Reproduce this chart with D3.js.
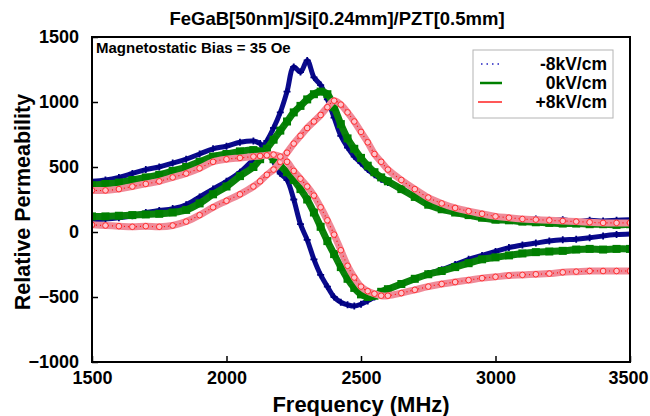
<!DOCTYPE html>
<html>
<head>
<meta charset="utf-8">
<script src="https://cdn.jsdelivr.net/npm/d3@7"></script>
<style>
body { margin: 0; background: white; }
text { font-family: 'Liberation Sans', Arial, sans-serif; font-weight: bold; }
</style>
</head>
<body>
<svg id='chart'></svg>
<script>
// frequency grid (MHz), finer around the resonance
var freqs = [1500, 1550, 1600, 1650, 1700, 1750, 1800, 1850, 1900, 1950, 2000, 2050, 2100,
	2125, 2150, 2175, 2200, 2225, 2250, 2275, 2300, 2325, 2350, 2375, 2400, 2425, 2450, 2475,
	2500, 2525, 2550, 2575, 2600, 2650, 2700, 2750, 2800, 2850, 2900, 2950, 3000, 3050, 3100,
	3150, 3200, 3250, 3300, 3350, 3400, 3450, 3500];

// real part (mu') per field
var realM8 = [390, 400, 420, 450, 480, 500, 530, 560, 600, 640, 660, 690, 700,
	680, 630, 540, 450, 400, 250, 60, -60, -210, -330, -420, -500, -540, -560, -570,
	-555, -530, -500, -470, -440, -400, -360, -320, -290, -250, -210, -180, -150, -120, -100,
	-85, -70, -60, -55, -45, -30, -20, -15];
var real0 = [360, 370, 380, 400, 420, 440, 470, 500, 540, 580, 600, 620, 630,
	620, 600, 560, 510, 460, 400, 330, 250, 150, 40, -70, -170, -270, -360, -430,
	-480, -500, -490, -460, -440, -400, -360, -325, -300, -270, -240, -210, -195, -180, -165,
	-155, -150, -145, -135, -130, -135, -130, -130];
var realP8 = [320, 320, 330, 350, 370, 390, 420, 450, 490, 540, 560, 570, 580,
	585, 590, 595, 580, 540, 470, 410, 350, 280, 190, 90, -20, -140, -260, -350,
	-420, -455, -475, -490, -490, -470, -445, -420, -400, -385, -370, -355, -345, -335, -330,
	-325, -320, -310, -305, -300, -300, -300, -300];

// imaginary part (mu'') per field
var imagM8 = [95, 100, 110, 125, 150, 165, 180, 210, 270, 330, 390, 460, 560,
	620, 700, 800, 920, 1080, 1270, 1230, 1320, 1190, 1130, 1020, 880, 740, 650, 580,
	530, 480, 440, 405, 380, 330, 275, 225, 185, 160, 140, 120, 110, 100, 95,
	100, 90, 95, 80, 90, 85, 90, 95];
var imag0 = [120, 120, 125, 130, 135, 140, 150, 170, 220, 290, 350, 430, 500,
	560, 640, 710, 780, 850, 920, 970, 1020, 1060, 1080, 1060, 960, 830, 720, 640,
	570, 510, 460, 420, 390, 330, 270, 210, 175, 150, 130, 110, 95, 90, 80,
	75, 70, 65, 65, 60, 60, 55, 60];
var imagP8 = [55, 50, 45, 40, 45, 40, 50, 80, 130, 190, 240, 290, 350,
	390, 440, 480, 540, 610, 680, 740, 800, 850, 900, 960, 1010, 980, 920, 850,
	770, 690, 600, 540, 480, 400, 330, 265, 220, 185, 160, 140, 120, 110, 100,
	95, 90, 85, 80, 75, 70, 70, 70];

var xTicks = [1500, 2000, 2500, 3000, 3500];
var yTicks = [-1000, -500, 0, 500, 1000, 1500];
var fieldLabels = ['-8kV/cm', '0kV/cm', '+8kV/cm'];

var dims = { width: 650, height: 416, left: 92, right: 630, top: 37, bottom: 362 };

var svg = d3.select('#chart').attr('width', dims.width).attr('height', dims.height);

var x = d3.scaleLinear().domain([1500, 3500]).range([dims.left, dims.right]);
var y = d3.scaleLinear().domain([-1000, 1500]).range([dims.bottom, dims.top]);

svg.append('clipPath').attr('id', 'plotClip')
	.append('rect')
		.attr('x', dims.left).attr('y', dims.top)
		.attr('width', dims.right - dims.left).attr('height', dims.bottom - dims.top);

var series = [
	{ key: 'm8', real: realM8, imag: imagM8, color: '#00007f', band: '#0a0a8c', width: 5, marker: 'cross' },
	{ key: 'z', real: real0, imag: imag0, color: '#007f00', band: '#0a820a', width: 7, marker: 'square' },
	{ key: 'p8', real: realP8, imag: imagP8, color: '#ff0000', band: '#f08a98', width: 7, marker: 'circle' }
];

var line = d3.line().x(d => x(d[0])).y(d => y(d[1])).curve(d3.curveCatmullRom);

var plot = svg.append('g').attr('clip-path', 'url(#plotClip)');

series.forEach(function(s) {
	[s.imag, s.real].forEach(function(vals) {
		var pts = freqs.map((f, i) => [f, vals[i]]);
		var g = plot.append('g');
		g.append('path')
			.attr('d', line(pts))
			.attr('fill', 'none')
			.attr('stroke', s.band)
			.attr('stroke-width', s.width)
			.attr('stroke-linejoin', 'round');
		if (s.marker == 'circle') {
			g.append('path')
				.attr('d', line(pts))
				.attr('fill', 'none')
				.attr('stroke', '#ff1010')
				.attr('stroke-width', 1.2)
				.attr('stroke-dasharray', '1 3');
			g.selectAll('circle').data(pts).enter().append('circle')
				.attr('cx', d => x(d[0])).attr('cy', d => y(d[1]))
				.attr('r', 2.8)
				.attr('fill', '#ffc4cc')
				.attr('stroke', '#ff2020')
				.attr('stroke-width', 0.9);
		} else if (s.marker == 'square') {
			g.selectAll('rect').data(pts).enter().append('rect')
				.attr('x', d => x(d[0]) - 4).attr('y', d => y(d[1]) - 4)
				.attr('width', 8).attr('height', 8)
				.attr('fill', s.color);
		} else {
			g.selectAll('path.m').data(pts).enter().append('path')
				.attr('class', 'm')
				.attr('d', d => 'M' + (x(d[0]) - 3.5) + ',' + y(d[1]) + 'h7M' + x(d[0]) + ',' + (y(d[1]) - 3.5) + 'v7')
				.attr('stroke', s.color)
				.attr('stroke-width', 1.8);
		}
	});
});

// axes with inward ticks
var xAxis = svg.append('g')
	.attr('transform', 'translate(0 ' + dims.bottom + ')')
	.call(d3.axisBottom(x).tickValues(xTicks).tickSizeInner(-6).tickSizeOuter(0).tickPadding(9).tickFormat(d3.format('d')));
var yAxis = svg.append('g')
	.attr('transform', 'translate(' + dims.left + ' 0)')
	.call(d3.axisLeft(y).tickValues(yTicks).tickSizeInner(-6).tickSizeOuter(0).tickPadding(13).tickFormat(d3.format('d')));

[xAxis, yAxis].forEach(function(a) {
	a.select('.domain').remove();
	a.selectAll('line').attr('stroke', 'black').attr('stroke-width', 1.5);
	a.selectAll('text').attr('font-size', 18).attr('font-family', 'Liberation Sans, Arial, sans-serif')
		.attr('font-weight', 'bold').attr('fill', 'black');
});
// keep the last label inside the page
xAxis.selectAll('.tick').filter(d => d == 3500).select('text').attr('dx', -2);

svg.append('rect')
	.attr('x', dims.left).attr('y', dims.top)
	.attr('width', dims.right - dims.left).attr('height', dims.bottom - dims.top)
	.attr('fill', 'none')
	.attr('stroke', 'black')
	.attr('stroke-width', 2);

svg.append('text')
	.attr('x', 337).attr('y', 25)
	.attr('text-anchor', 'middle')
	.attr('font-size', 18.5)
	.text('FeGaB[50nm]/Si[0.24mm]/PZT[0.5mm]');

svg.append('text')
	.attr('x', 96).attr('y', 53)
	.attr('font-size', 15)
	.text('Magnetostatic Bias = 35 Oe');

svg.append('text')
	.attr('x', (dims.left + dims.right) / 2).attr('y', 412)
	.attr('text-anchor', 'middle')
	.attr('font-size', 22)
	.text('Frequency (MHz)');

svg.append('text')
	.attr('transform', 'translate(30 202) rotate(-90)')
	.attr('text-anchor', 'middle')
	.attr('font-size', 21.5)
	.text('Relative Permeability');

// legend
var legend = svg.append('g');
legend.append('rect')
	.attr('x', 473).attr('y', 50).attr('width', 140).attr('height', 68)
	.attr('fill', 'white')
	.attr('stroke', '#b4b4b4')
	.attr('stroke-width', 1);

fieldLabels.forEach(function(lbl, i) {
	var ly = 64 + i * 19;
	var s = series[i];
	if (s.marker == 'cross') {
		legend.append('line')
			.attr('x1', 481).attr('x2', 501).attr('y1', ly).attr('y2', ly)
			.attr('stroke', '#2020c0').attr('stroke-width', 1.5)
			.attr('stroke-dasharray', '1.5 4');
	} else if (s.marker == 'square') {
		legend.append('line')
			.attr('x1', 480).attr('x2', 502).attr('y1', ly).attr('y2', ly)
			.attr('stroke', '#008000').attr('stroke-width', 2.5);
	} else {
		legend.append('line')
			.attr('x1', 478).attr('x2', 502).attr('y1', ly).attr('y2', ly)
			.attr('stroke', '#ff2020').attr('stroke-width', 1.5);
	}
	legend.append('text')
		.attr('x', 607).attr('y', ly + 6)
		.attr('text-anchor', 'end')
		.attr('font-size', 17.5)
		.text(lbl);
});
</script>
</body>
</html>
